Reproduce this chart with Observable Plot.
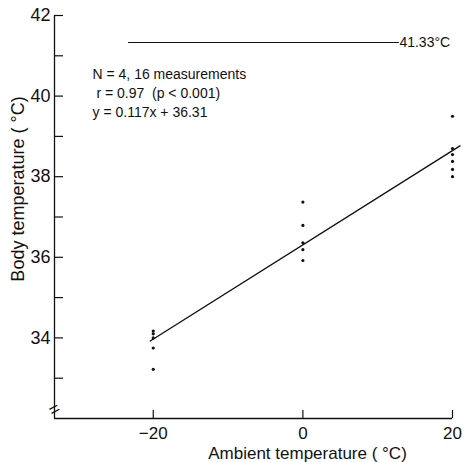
<!DOCTYPE html>
<html><head><meta charset="utf-8">
<script src="https://cdn.jsdelivr.net/npm/d3@7"></script>
<script src="https://cdn.jsdelivr.net/npm/@observablehq/plot@0.6"></script>
<style>body{margin:0;background:#fff} svg{display:block}</style>
</head><body><div id="chart"></div>
<script>
// measurements
const ambientTemps = [-20, -20, -20, -20, -20, 0, 0, 0, 0, 0, 20, 20, 20, 20, 20, 20];
const bodyTemps = [34.17, 34.1, 34.0, 33.75, 33.22, 37.37, 36.79, 36.36, 36.19, 35.92, 39.5, 38.7, 38.55, 38.38, 38.18, 38.0];
// regression y = 0.117x + 36.31
const slope = 0.117;
const intercept = 36.31;
const fitRange = [-20.4, 21];
// maximum line
const maxTemp = 41.33;
const maxRange = [-23.3, 12.9];
const maxLabel = "41.33°C";
// axes
const xDomain = [-33.2, 20];
const yDomain = [32, 42];
const xTicks = [-20, 0, 20];
const yTicks = [34, 36, 38, 40, 42];
const yMinorTicks = [33, 35, 37, 39, 41];
const stats = ["N = 4, 16 measurements", " r = 0.97  (p < 0.001)", "y = 0.117x + 36.31"];
const xLabel = "Ambient temperature ( °C)";
const yLabel = "Body temperature ( °C)";

const points = ambientTemps.map((x, i) => ({x, y: bodyTemps[i]}));
const fit = fitRange.map(x => ({x, y: slope * x + intercept}));

const W = 464, H = 462, ML = 54, MR = 12, MT = 15, MB = 44;
const fw = W - ML - MR, fh = H - MT - MB;

const chart = Plot.plot({
  width: W, height: H,
  marginLeft: ML, marginRight: MR, marginTop: MT, marginBottom: MB,
  style: {fontFamily: "'Liberation Sans', Arial, sans-serif", color: "#111", background: "#fff"},
  x: {domain: xDomain},
  y: {domain: yDomain},
  marks: [
    Plot.axisY(yTicks, {tickSize: 0, tickPadding: 4, fontSize: 18, label: null}),
    Plot.axisX(xTicks, {tickSize: 0, tickPadding: 8, fontSize: 17, label: null}),
    Plot.ruleX([xDomain[0]], {stroke: "#111", strokeWidth: 1.3}),
    Plot.ruleY([yDomain[0]], {stroke: "#111", strokeWidth: 1.3}),
    Plot.tickY(yTicks.concat(yMinorTicks), {y: d => d, insetRight: fw - 9, stroke: "#111", strokeWidth: 1.2}),
    Plot.tickX(xTicks, {x: d => d, insetTop: fh - 8, stroke: "#111", strokeWidth: 1.2}),
    Plot.text(["="], {frameAnchor: "bottom-left", dy: -9, rotate: -28, fontSize: 18, textAnchor: "middle", lineAnchor: "middle", fill: "#111"}),
    Plot.ruleY([maxTemp], {x1: maxRange[0], x2: maxRange[1], stroke: "#111", strokeWidth: 1}),
    Plot.text([maxLabel], {x: maxRange[1], y: maxTemp, textAnchor: "start", fontSize: 14, fill: "#111"}),
    Plot.line(fit, {x: "x", y: "y", stroke: "#111", strokeWidth: 1.4}),
    Plot.dot(points, {x: "x", y: "y", r: 1.6, fill: "#111", stroke: null}),
    Plot.text([stats.join("\n")], {frameAnchor: "top-left", dx: 38, dy: 50, textAnchor: "start", lineAnchor: "top", lineHeight: 1.36, fontSize: 14, fill: "#111"}),
    Plot.text([xLabel], {frameAnchor: "bottom", dx: 54, dy: 35, textAnchor: "middle", lineAnchor: "middle", fontSize: 17, fill: "#111"}),
    Plot.text([yLabel], {frameAnchor: "left", dx: -36, dy: -28, rotate: -90, textAnchor: "middle", lineAnchor: "middle", fontSize: 18, fill: "#111"})
  ]
});
document.getElementById("chart").appendChild(chart);
</script>
</body></html>
